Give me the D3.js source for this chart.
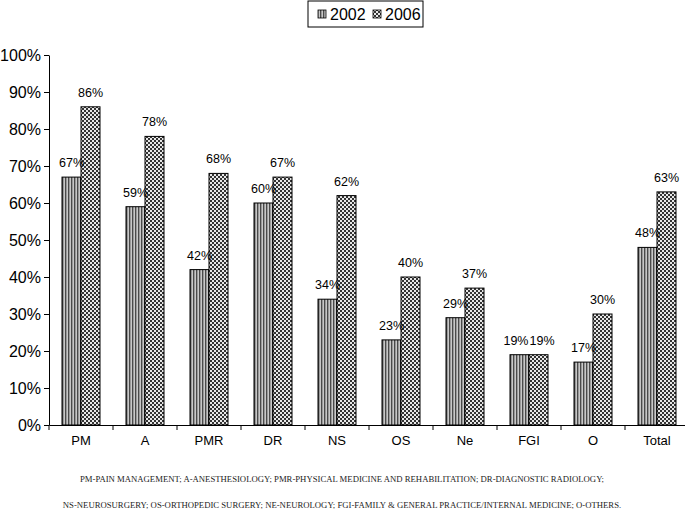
<!DOCTYPE html>
<html><head><meta charset="utf-8">
<script src="https://cdn.jsdelivr.net/npm/d3@7"></script>
<style>body{margin:0;background:#fff}svg{display:block}</style>
</head><body>
<svg id="c" width="685" height="532"></svg>
<script>
const categories = ["PM","A","PMR","DR","NS","OS","Ne","FGI","O","Total"];
const series = ["2002","2006"];
const values2002 = [67,59,42,60,34,23,29,19,17,48];
const values2006 = [86,78,68,67,62,40,37,19,30,63];
const yTicks = [0,10,20,30,40,50,60,70,80,90,100];
const footnotes = [
  "PM-PAIN MANAGEMENT; A-ANESTHESIOLOGY; PMR-PHYSICAL MEDICINE AND REHABILITATION; DR-DIAGNOSTIC RADIOLOGY;",
  "NS-NEUROSURGERY; OS-ORTHOPEDIC SURGERY; NE-NEUROLOGY; FGI-FAMILY & GENERAL PRACTICE/INTERNAL MEDICINE; O-OTHERS."
];

const svg = d3.select("#c");
const defs = svg.append("defs");
// vertical stripes
const p1 = defs.append("pattern").attr("id","pat2002").attr("patternUnits","userSpaceOnUse").attr("width",3).attr("height",3);
p1.append("rect").attr("width",3).attr("height",3).attr("fill","#999");
p1.append("rect").attr("x",0).attr("width",1).attr("height",3).attr("fill","#4a4a4a");
p1.append("rect").attr("x",2).attr("width",1).attr("height",3).attr("fill","#c8c8c8");
// checker
const p2 = defs.append("pattern").attr("id","pat2006").attr("patternUnits","userSpaceOnUse").attr("width",4).attr("height",4);
p2.append("rect").attr("width",4).attr("height",4).attr("fill","#e8e8e8");
p2.append("rect").attr("x",0).attr("y",0).attr("width",2).attr("height",2).attr("fill","#333");
p2.append("rect").attr("x",2).attr("y",2).attr("width",2).attr("height",2).attr("fill","#333");

const fills = {"2002":"url(#pat2002)","2006":"url(#pat2006)"};
const x0 = 49, x1 = 689, yTop = 55, yBot = 425;
const x = d3.scaleBand().domain(categories).range([x0,x1]).paddingInner(0).paddingOuter(0);
const y = d3.scaleLinear().domain([0,100]).range([yBot,yTop]);
const barW = 19;
const xs = d3.scaleBand().domain(series).range([0,barW*2]);
const font = "Liberation Sans, Arial, sans-serif";
const labelSize = 12.5;

const data = categories.map((c,i)=>({cat:c, vals:[{s:"2002",v:values2002[i]},{s:"2006",v:values2006[i]}]}));

// y axis
const yAxis = d3.axisLeft(y).tickValues(yTicks).tickFormat(d=>d+"%").tickSize(5).tickSizeOuter(0);
const gy = svg.append("g").attr("transform",`translate(${x0},0)`).call(yAxis);
gy.select(".domain").attr("stroke","#000").attr("stroke-width",1);
gy.selectAll(".tick line").attr("stroke","#000");
gy.selectAll(".tick text").attr("font-family",font).attr("font-size",16).attr("fill","#000").attr("x",-8);

// x axis
const xAxis = d3.axisBottom(x).tickSize(0).tickSizeOuter(0);
const gx = svg.append("g").attr("transform",`translate(0,${yBot})`).call(xAxis);
gx.select(".domain").attr("stroke","#000");
gx.selectAll(".tick text").attr("font-family",font).attr("font-size",13).attr("fill","#000").attr("dy","0.9em").attr("y",8);
svg.append("g").selectAll("line").data(categories).join("line")
  .attr("x1",d=>x(d)).attr("x2",d=>x(d)).attr("y1",yBot).attr("y2",yBot+5).attr("stroke","#000");

// bars
const groups = svg.append("g").selectAll("g").data(data).join("g")
  .attr("transform",d=>`translate(${x(d.cat)+x.bandwidth()/2-barW},0)`);
groups.selectAll("rect").data(d=>d.vals).join("rect")
  .attr("x",d=>xs(d.s)).attr("width",xs.bandwidth())
  .attr("y",d=>y(d.v)).attr("height",d=>yBot-y(d.v))
  .attr("fill",d=>fills[d.s]).attr("stroke","#000").attr("stroke-width",1);
// labels, nudged apart only when both labels sit at nearly the same height
groups.each(function(d){
  const g = d3.select(this);
  const same = Math.abs(d.vals[0].v - d.vals[1].v) < 4;
  const texts = g.selectAll("text").data(d.vals).join("text")
    .attr("y",v=>y(v.v)-10)
    .attr("text-anchor","middle").attr("font-family",font).attr("font-size",labelSize)
    .text(v=>v.v+"%");
  texts.attr("x",v=>xs(v.s)+xs.bandwidth()/2);
  if(same){
    const w = d3.max(texts.nodes(), n=>n.getComputedTextLength());
    const need = w - xs.bandwidth();
    if(need>0) texts.attr("x",(v,i)=>xs(v.s)+xs.bandwidth()/2 + (i===0?-1:1)*(need/2+0.5));
  }
});

// legend
const lg = svg.append("g").attr("transform","translate(308,1)");
lg.append("rect").attr("width",115).attr("height",26).attr("fill","#fff").attr("stroke","#000");
series.forEach((s,i)=>{
  const lx = 10 + i*55;
  lg.append("rect").attr("x",lx).attr("y",9).attr("width",8).attr("height",8).attr("fill",fills[s]).attr("stroke","#000").attr("stroke-width",0.8);
  lg.append("text").attr("x",lx+12).attr("y",19).attr("font-family",font).attr("font-size",16).text(s);
});

// footnotes
svg.append("g").selectAll("text").data(footnotes).join("text")
  .attr("x",342).attr("y",(d,i)=>482+i*26).attr("text-anchor","middle")
  .attr("font-family","Liberation Serif, Times New Roman, serif").attr("font-size",8.7).attr("fill","#222")
  .text(d=>d);
</script>
</body></html>
